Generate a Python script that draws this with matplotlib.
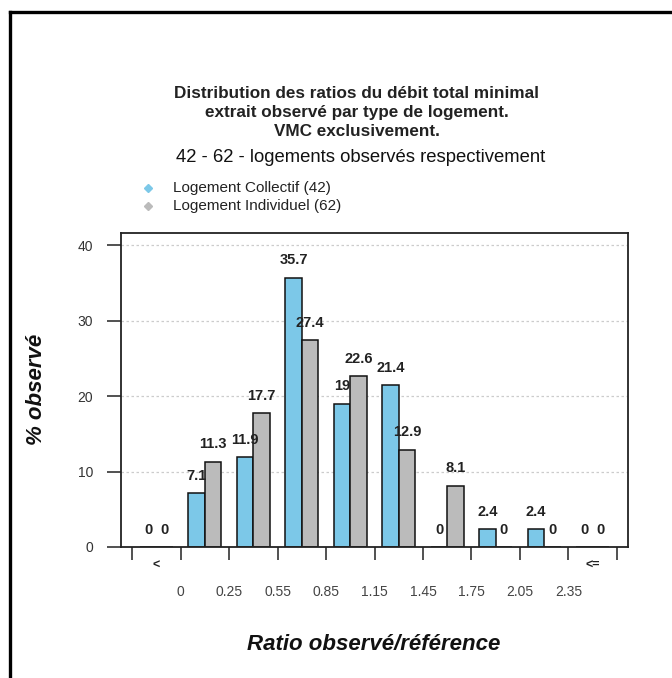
import matplotlib
matplotlib.use("Agg")
import matplotlib.pyplot as plt
from matplotlib.lines import Line2D
import numpy as np

plt.rcParams['font.family'] = ['Liberation Sans', 'DejaVu Sans']

# ---- data ----
series_names = ["Logement Collectif (42)", "Logement Individuel (62)"]
collectif = [0, 7.1, 11.9, 35.7, 19, 21.4, 0, 2.4, 2.4, 0]
individuel = [0, 11.3, 17.7, 27.4, 22.6, 12.9, 8.1, 0, 0, 0]
group_labels = ["<", "", "", "", "", "", "", "", "", "<="]
boundary_labels = ["0", "0.25", "0.55", "0.85", "1.15", "1.45", "1.75", "2.05", "2.35"]
yticks = [0, 10, 20, 30, 40]
title_lines = ["Distribution des ratios du débit total minimal",
               "extrait observé par type de logement.",
               "VMC exclusivement."]
subtitle = "42 - 62 - logements observés respectivement"
xlabel = "Ratio observé/référence"
ylabel = "% observé"

col_blue = "#7CC8E8"
col_grey = "#BBBBBB"

W, H = 672, 678
fig = plt.figure(figsize=(W / 100, H / 100), dpi=100)

def fx(px):
    return px / W

def fy(py):
    return 1 - py / H

# outer frame (top and left visible)
fig.add_artist(Line2D([fx(10), fx(10)], [fy(12), 0], color="black", lw=2.4, transform=fig.transFigure))
fig.add_artist(Line2D([fx(10), 1], [fy(12), fy(12)], color="black", lw=2.4, transform=fig.transFigure))

ax = fig.add_axes([fx(121), fy(547), fx(628) - fx(121), fy(233) - fy(547)])
n = len(collectif)
x = np.arange(n)
bw = 0.34
ax.set_xlim(-0.727, n - 1 + 0.727)
ax.set_ylim(0, 41.6)

for yv in yticks[1:]:
    ax.axhline(yv, color="#CCCCCC", lw=0.9, ls=(0, (2, 2)), zorder=0)

ax.bar(x - bw / 2, collectif, width=bw, color=col_blue, edgecolor="#111111", lw=1.1, zorder=2)
ax.bar(x + bw / 2, individuel, width=bw, color=col_grey, edgecolor="#111111", lw=1.1, zorder=2)

def fmt(v):
    return str(int(v)) if float(v).is_integer() else f"{v}"

for xs, vals in ((x - bw / 2, collectif), (x + bw / 2, individuel)):
    for xi, v in zip(xs, vals):
        ax.text(xi, v + 2.3, fmt(v), ha="center", va="center", fontsize=10.5,
                fontweight="bold", color="#222222", zorder=3)

for s in ax.spines.values():
    s.set_color("#222222")
    s.set_linewidth(1.3)

ax.set_yticks(yticks)
ax.set_yticklabels([str(v) for v in yticks], fontsize=10, color="#333333")
ax.tick_params(axis="y", length=10, width=1.1, color="#222222", pad=10)
ax.set_xticks(np.arange(-0.5, n, 1.0))
ax.set_xticklabels([])
ax.tick_params(axis="x", length=9.5, width=1.1, color="#222222")

for xi, lab in zip(x, group_labels):
    if lab:
        ax.annotate(lab, xy=(xi, 0), xycoords=("data", "axes fraction"),
                    xytext=(0, -19 * 0.72), textcoords="offset points",
                    ha="center", va="center", fontsize=9, fontweight="bold", color="#222222")
for xi, lab in zip(np.arange(0.5, n - 1, 1.0), boundary_labels):
    ax.annotate(lab, xy=(xi, 0), xycoords=("data", "axes fraction"),
                xytext=(0, -45 * 0.72), textcoords="offset points",
                ha="center", va="center", fontsize=10, color="#444444")

# titles
for t, yy in zip(title_lines, (94, 113, 131)):
    fig.text(fx(357), fy(yy), t, ha="center", va="center", fontsize=12.3,
             fontweight="bold", color="#222222")
fig.text(fx(361), fy(158), subtitle, ha="center", va="center", fontsize=13.3,
         color="#111111")

# legend
for name, col, yy in zip(series_names, (col_blue, col_grey), (188, 206)):
    fig.add_artist(Line2D([fx(148)], [fy(yy)], marker="D", ms=4.5, color=col, ls="none",
                          transform=fig.transFigure))
    fig.text(fx(173), fy(yy), name, ha="left", va="center", fontsize=11, color="#222222")

fig.text(fx(374), fy(645), xlabel, ha="center", va="center", fontsize=16,
         fontweight="bold", fontstyle="italic", color="#111111")
fig.text(fx(37), fy(389), ylabel, ha="center", va="center", rotation=90, fontsize=16,
         fontweight="bold", fontstyle="italic", color="#111111")

fig.savefig("out.png", dpi=100)
